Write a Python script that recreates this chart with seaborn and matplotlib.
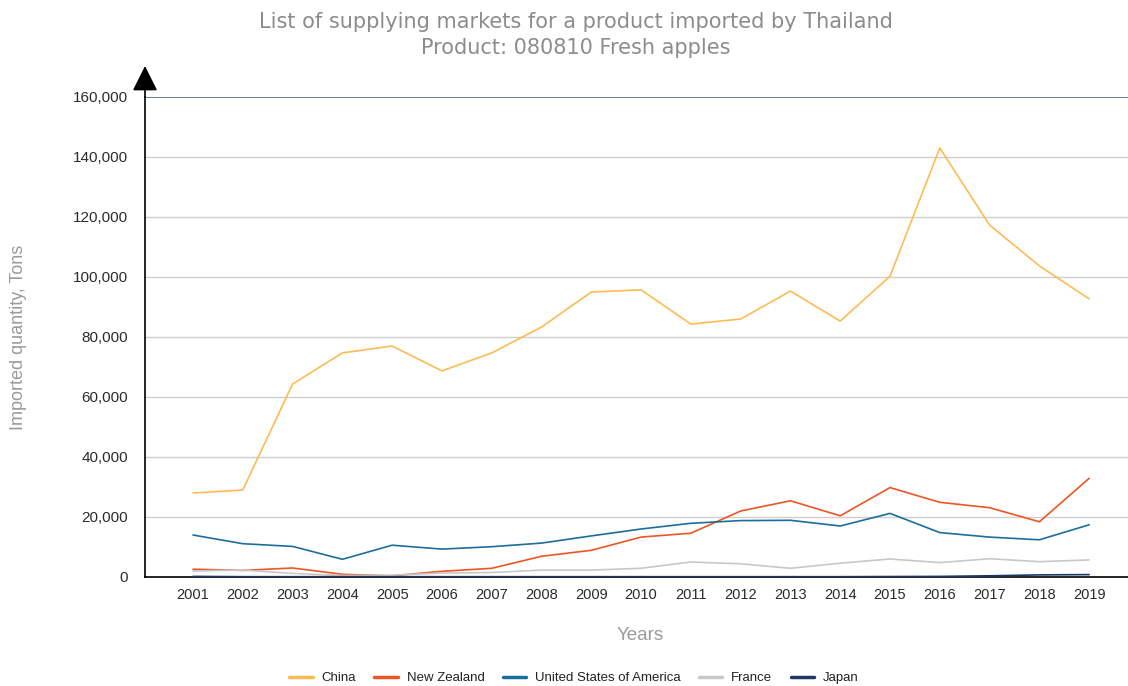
import matplotlib
matplotlib.use("Agg")
import matplotlib.pyplot as plt
import pandas as pd
import seaborn as sns
from matplotlib.ticker import FuncFormatter, MultipleLocator

years = list(range(2001, 2020))
countries = ["China", "New Zealand", "United States of America", "France", "Japan"]

china = [28000, 29000, 64300, 74700, 77000, 68700, 74700, 83300, 95000, 95700,
         84300, 86000, 95300, 85300, 100300, 143000, 117300, 103700, 92700]
new_zealand = [2600, 2200, 3000, 900, 400, 1900, 2900, 6900, 8900, 13300,
               14600, 22000, 25400, 20400, 29800, 24900, 23100, 18400, 32900]
usa = [14000, 11100, 10200, 5900, 10600, 9300, 10100, 11300, 13700, 16000,
       17900, 18800, 18900, 17000, 21200, 14800, 13300, 12400, 17400]
france = [2000, 2300, 1200, 500, 600, 1300, 1500, 2300, 2300, 2900,
          5000, 4400, 2900, 4600, 6000, 4800, 6100, 5100, 5700]
japan = [200, 100, 100, 100, 100, 100, 100, 100, 100, 100,
         100, 100, 100, 100, 150, 200, 400, 700, 800]

colors = {
    "China": "#fdbb55",
    "New Zealand": "#ee5524",
    "United States of America": "#1b6e9c",
    "France": "#c8c8c8",
    "Japan": "#1d3766",
}

series = [china, new_zealand, usa, france, japan]
df = pd.DataFrame(
    [(y, c, v) for c, vals in zip(countries, series) for y, v in zip(years, vals)],
    columns=["Year", "Country", "Quantity"],
)

sns.set_theme(style="white")
plt.rcParams["font.family"] = ["Liberation Sans", "DejaVu Sans"]

fig = plt.figure(figsize=(11.28, 6.86), dpi=100)
W, H = 1128, 686
ax = fig.add_axes([145 / W, 1 - 577 / H, (1128 - 145) / W, (577 - 97) / H])

sns.lineplot(data=df, x="Year", y="Quantity", hue="Country", hue_order=countries,
             palette=colors, linewidth=1.2, ax=ax, legend=False, zorder=3)

ax.set_xlim(2000.036, 2019.78)
ax.set_ylim(0, 160000)
ax.yaxis.set_major_locator(MultipleLocator(20000))
ax.yaxis.set_major_formatter(FuncFormatter(lambda v, p: f"{int(v):,}"))
ax.set_xticks(years)
ax.set_xticklabels([str(y) for y in years])

# horizontal gridlines; the top one is darker
for v in range(20000, 160000, 20000):
    ax.axhline(v, color="#cfcfcf", linewidth=1.0, zorder=1)
ax.axhline(160000, color="#50688a", linewidth=1.2, zorder=1)

for s in ["top", "right"]:
    ax.spines[s].set_visible(False)
ax.spines["left"].set_color("black")
ax.spines["left"].set_linewidth(1.2)
ax.spines["bottom"].set_color("black")
ax.spines["bottom"].set_linewidth(1.2)

ax.tick_params(axis="both", which="major", direction="out", width=1.2,
               color="black", labelcolor="#2b2b2b", labelsize=11)
ax.tick_params(axis="x", length=6, pad=2, labelsize=10.5)
ax.tick_params(axis="y", length=8, pad=4)

ax.set_xlabel("")
ax.set_ylabel("")

# arrow head on top of the y axis
ax.annotate("", xy=(145 / W, 1 - 66 / H), xytext=(145 / W, 1 - 97 / H),
            xycoords="figure fraction", textcoords="figure fraction",
            arrowprops=dict(arrowstyle="-|>,head_length=1.3,head_width=0.65",
                            color="black", linewidth=1.2, shrinkA=0, shrinkB=0))

fig.text(576 / W, 1 - 22 / H, "List of supplying markets for a product imported by Thailand",
         ha="center", va="center", fontsize=15, color="#8c8c8c",
         family=["DejaVu Sans"])
fig.text(576 / W, 1 - 48 / H, "Product: 080810 Fresh apples",
         ha="center", va="center", fontsize=15, color="#8c8c8c",
         family=["DejaVu Sans"])
fig.text(19 / W, 1 - 337 / H, "Imported quantity, Tons", rotation=90,
         ha="center", va="center", fontsize=13, color="#9a9a9a")
fig.text(640 / W, 1 - 635 / H, "Years", ha="center", va="center",
         fontsize=13.5, color="#9a9a9a")

handles = [plt.Line2D([0], [0], color=colors[c], linewidth=2.5) for c in countries]
fig.legend(handles, countries, loc="center", bbox_to_anchor=(574 / W, 1 - 678 / H),
           ncol=5, frameon=False, fontsize=9.5, handlelength=1.75, handletextpad=0.68,
           columnspacing=1.4, labelcolor="#222222")

fig.savefig("out.png", dpi=100)
